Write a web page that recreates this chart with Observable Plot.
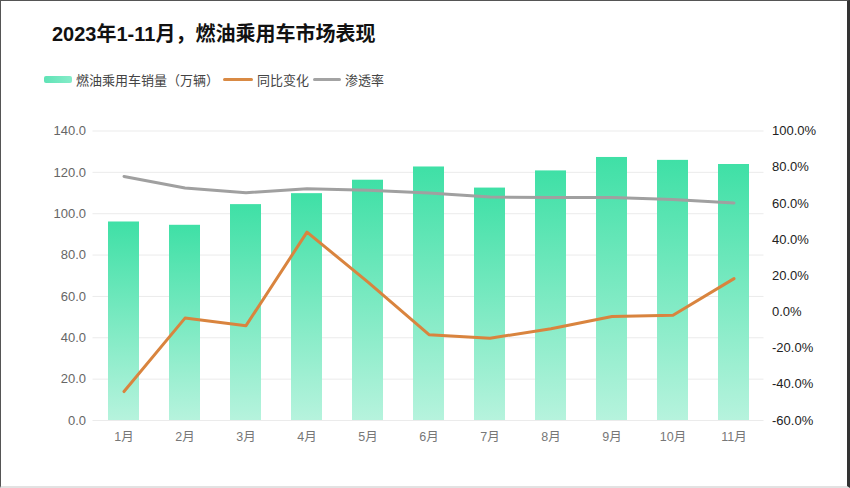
<!DOCTYPE html>
<html>
<head>
<meta charset="utf-8">
<script src="https://cdn.jsdelivr.net/npm/d3@7"></script>
<script src="https://cdn.jsdelivr.net/npm/@observablehq/plot@0.6"></script>
<style>
  html, body { margin: 0; padding: 0; background: #fff; }
  body { width: 850px; height: 488px; position: relative; overflow: hidden;
         font-family: "Liberation Sans", Arial, "Noto Sans CJK SC", sans-serif; }
  #frame { position: absolute; left: 0; top: 0; width: 846px; height: 485px;
           border-top: 1px solid #555; border-left: 1px solid #555; border-right: 3px solid #333; border-bottom: 2px solid #e2e2e2; pointer-events: none; }
  #title { position: absolute; left: 52px; top: 18px; font-size: 20px; font-weight: bold; color: #111;
           font-family: "Liberation Sans", Arial, "Noto Sans CJK SC", sans-serif; white-space: nowrap; }
  #legend { position: absolute; left: 44px; top: 70px; font-size: 13px; color: #444; display: flex; align-items: center;
            font-family: "Noto Sans CJK SC", sans-serif; white-space: nowrap; }
  .sw { display: inline-block; margin-right: 4px; }
  .item { display: flex; align-items: center; margin-right: 4px; }
  #chart { position: absolute; left: 0; top: 100px; }
</style>
</head>
<body>
<div id="title">2023年1-11月，燃油乘用车市场表现</div>
<div id="legend">
  <span class="item"><span class="sw" style="width:28px;height:7px;border-radius:2px;background:linear-gradient(90deg,#5fe3b6,#86ecc9);"></span>燃油乘用车销量（万辆）</span>
  <span class="item"><span class="sw" style="width:30px;height:3px;border-radius:2px;background:#d98a44;"></span>同比变化</span>
  <span class="item"><span class="sw" style="width:28px;height:3px;border-radius:2px;background:#a3a3a3;"></span>渗透率</span>
</div>
<div id="chart"></div>
<div id="frame"></div>
<script>
const months = ["1月","2月","3月","4月","5月","6月","7月","8月","9月","10月","11月"];
const sales = [96.0, 94.4, 104.4, 109.7, 116.2, 122.6, 112.4, 120.7, 127.2, 125.8, 123.8];
const yoy = [-44.0, -3.4, -7.6, 44.1, 16.5, -12.6, -14.5, -9.3, -2.5, -1.8, 18.4];
const penetration = [74.9, 68.5, 65.9, 68.1, 67.2, 65.7, 63.5, 63.2, 63.2, 62.1, 60.2];
const leftTicks = [0, 20, 40, 60, 80, 100, 120, 140];
const rightTicks = [-60, -40, -20, 0, 20, 40, 60, 80, 100];

// map right-axis percentage onto the left axis domain (0..140)
const toLeft = p => (p + 60) / 160 * 140;
const fromLeft = v => Math.round(v * 160 / 140 - 60);

const barData = months.map((m, i) => ({month: m, value: sales[i]}));
const yoyData = months.map((m, i) => ({month: m, value: toLeft(yoy[i])}));
const penData = months.map((m, i) => ({month: m, value: toLeft(penetration[i])}));

const defs = () => {
  const d = d3.create("svg:defs");
  const g = d.append("linearGradient").attr("id", "barGrad")
    .attr("x1", 0).attr("y1", 0).attr("x2", 0).attr("y2", 1);
  g.append("stop").attr("offset", "0%").attr("stop-color", "#3fe0a6");
  g.append("stop").attr("offset", "100%").attr("stop-color", "#b6f3dd");
  return d.node();
};

const chart = Plot.plot({
  width: 850,
  height: 380,
  marginTop: 30.5,
  marginBottom: 60,
  marginLeft: 92.5,
  marginRight: 86.5,
  style: {fontFamily: "'Liberation Sans', Arial, 'Noto Sans CJK SC', sans-serif", fontSize: "13px", background: "transparent"},
  x: {domain: months, paddingInner: 0.5, paddingOuter: 0.25},
  y: {domain: [0, 140]},
  marks: [
    defs,
    Plot.gridY(leftTicks, {stroke: "#ebebeb", strokeOpacity: 1, strokeWidth: 1}),
    Plot.barY(barData, {x: "month", y: "value", fill: "url(#barGrad)"}),
    Plot.line(penData, {x: "month", y: "value", stroke: "#a0a0a0", strokeWidth: 3, curve: "linear"}),
    Plot.line(yoyData, {x: "month", y: "value", stroke: "#d9843e", strokeWidth: 3, curve: "linear"}),
    Plot.axisY(leftTicks, {anchor: "left", tickSize: 0, tickPadding: 7, tickFormat: d => d.toFixed(1), fill: "#666", fontSize: 13, label: null}),
    Plot.axisY(rightTicks.map(toLeft), {anchor: "right", tickSize: 0, tickPadding: 8, tickFormat: d => fromLeft(d).toFixed(1) + "%", fill: "#222", fontSize: 13, label: null}),
    Plot.axisX(months, {anchor: "bottom", tickSize: 0, tickPadding: 12, fill: "#777", fontSize: 12.5, label: null})
  ]
});
document.getElementById("chart").appendChild(chart);
</script>
</body>
</html>
